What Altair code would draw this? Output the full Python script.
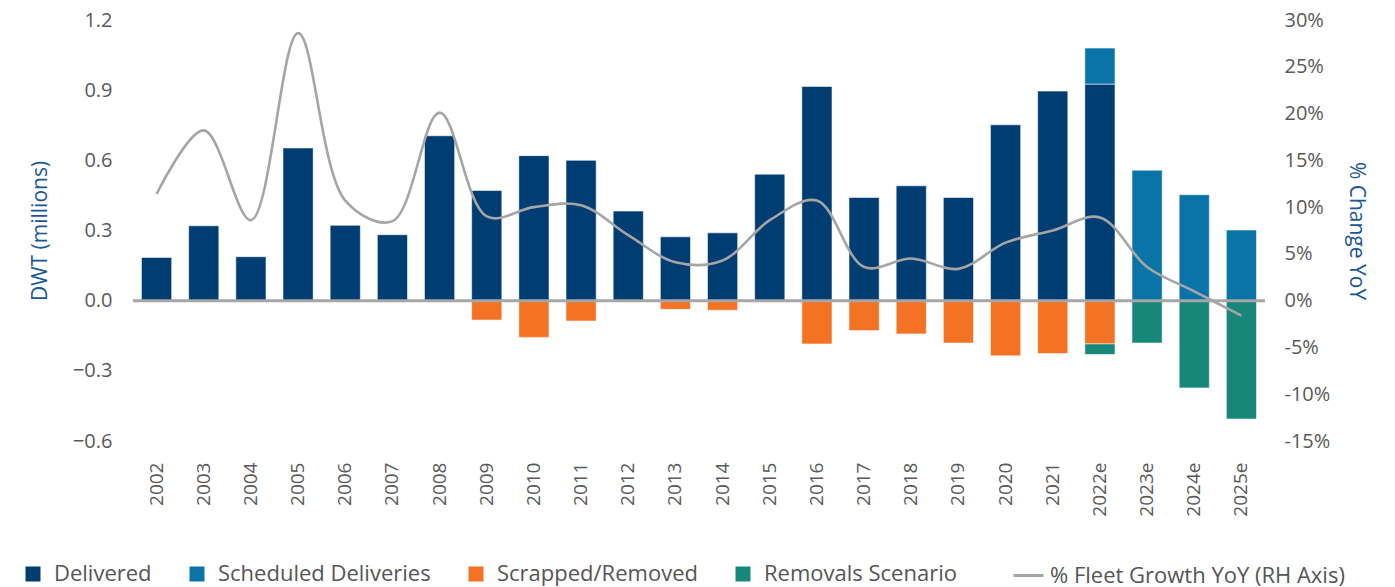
import altair as alt
import pandas as pd

years = ["2002", "2003", "2004", "2005", "2006", "2007", "2008", "2009", "2010", "2011",
         "2012", "2013", "2014", "2015", "2016", "2017", "2018", "2019", "2020", "2021",
         "2022e", "2023e", "2024e", "2025e"]
delivered = [0.185, 0.32, 0.188, 0.653, 0.322, 0.282, 0.705, 0.471, 0.62, 0.60,
             0.383, 0.273, 0.29, 0.541, 0.916, 0.441, 0.491, 0.441, 0.752, 0.896,
             0.926, 0, 0, 0]
scheduled = [0] * 20 + [0.154, 0.558, 0.453, 0.302]
scrapped = [0, 0, 0, 0, 0, 0, 0, -0.083, -0.157, -0.087,
            0, -0.037, -0.041, 0, -0.185, -0.128, -0.142, -0.181, -0.236, -0.226,
            -0.185, 0, 0, 0]
removals = [0] * 20 + [-0.045, -0.181, -0.373, -0.506]
growth = [11.4, 18.2, 8.6, 28.6, 10.7, 8.5, 20.1, 9.0, 10.0, 10.2,
          7.0, 4.1, 4.3, 8.6, 10.7, 3.6, 4.5, 3.4, 6.2, 7.5,
          8.9, 3.6, 1.0, -1.6]

series_names = ["Delivered", "Scheduled Deliveries", "Scrapped/Removed", "Removals Scenario"]
series_colors = ["#003d73", "#0a74a8", "#f47224", "#168778"]
line_name = "% Fleet Growth YoY (RH Axis)"

rows = []
for vals, name, k in zip([delivered, scheduled, scrapped, removals], series_names, range(4)):
    for y, v in zip(years, vals):
        if v != 0:
            rows.append({"year": y, "series": name, "value": v, "ord": k})
bars_df = pd.DataFrame(rows)
line_df = pd.DataFrame({"year": years, "growth": growth, "name": line_name})
zero_df = pd.DataFrame({"value": [0.0]})

FONT = "Open Sans"
W, H = 1132, 421

x_enc = alt.X("year:N", sort=years, title=None,
              scale=alt.Scale(paddingInner=0.36, paddingOuter=0.18),
              axis=alt.Axis(labelAngle=270, labelAlign="right", labelBaseline="middle",
                            labelPadding=21, ticks=False, domain=False,
                            labelFontSize=19, labelColor="#595959", labelFont=FONT))

left_scale = alt.Scale(domain=[-0.6, 1.2], nice=False, zero=False)
left_axis = alt.Axis(values=[-0.6, -0.3, 0, 0.3, 0.6, 0.9, 1.2], format=".1f",
                     grid=False, domain=False, ticks=False, labelPadding=21,
                     labelFontSize=20, labelColor="#595959", labelFont=FONT,
                     title="DWT (millions)", titleFontSize=21, titleFont=FONT,
                     titleFontWeight="normal", titleColor="#1a5794", titlePadding=22)

bars = alt.Chart(bars_df).mark_bar(stroke="#ffffff", strokeWidth=1, strokeOpacity=0.55).encode(
    x=x_enc,
    y=alt.Y("value:Q", stack="zero", scale=left_scale, axis=left_axis),
    color=alt.Color("series:N", sort=series_names,
                    scale=alt.Scale(domain=series_names, range=series_colors),
                    legend=alt.Legend(title=None, orient="none", direction="horizontal",
                                      legendX=-111, legendY=543, symbolType="square",
                                      symbolSize=225, symbolStrokeWidth=0, labelOffset=10,
                                      columnPadding=34, labelFontSize=22, labelFont=FONT,
                                      labelColor="#555555", labelLimit=400, padding=0)),
    order=alt.Order("ord:Q"),
)

rule = alt.Chart(zero_df).mark_rule(color="#a6a6a6", strokeWidth=3).encode(
    y=alt.Y("value:Q", scale=left_scale, axis=left_axis),
    x=alt.value(0), x2=alt.value(W),
)

line = alt.Chart(line_df).mark_line(strokeWidth=2.6, interpolate="catmull-rom").encode(
    x=alt.X("year:N", sort=years),
    y=alt.Y("growth:Q", scale=alt.Scale(domain=[-15, 30], nice=False, zero=False),
            axis=alt.Axis(values=list(range(-15, 31, 5)), labelExpr="datum.value + '%'",
                          grid=False, domain=False, ticks=False, labelPadding=19,
                          labelFontSize=20, labelColor="#595959", labelFont=FONT,
                          title="% Change YoY", titleFontSize=21, titleFont=FONT,
                          titleFontWeight="normal", titleColor="#1a5794", titlePadding=16,
                          orient="right")),
    stroke=alt.Stroke("name:N", scale=alt.Scale(domain=[line_name], range=["#a5a5a5"]),
                      legend=alt.Legend(title=None, orient="none", legendX=879, legendY=539,
                                        symbolType="stroke", symbolSize=900,
                                        symbolStrokeWidth=3, labelOffset=5,
                                        labelFontSize=22, labelFont=FONT,
                                        labelColor="#555555", labelLimit=500, padding=0)),
)

chart = alt.layer(alt.layer(bars, rule), line).resolve_scale(
    y="independent", color="independent", stroke="independent"
).properties(
    width=W, height=H,
    autosize=alt.AutoSizeParams(type="none"),
    padding={"left": 125, "top": 12, "right": 120, "bottom": 146},
).configure(font=FONT).configure_view(stroke=None, strokeWidth=0)

chart.save("out.html", embed_options={"renderer": "svg", "actions": False})
